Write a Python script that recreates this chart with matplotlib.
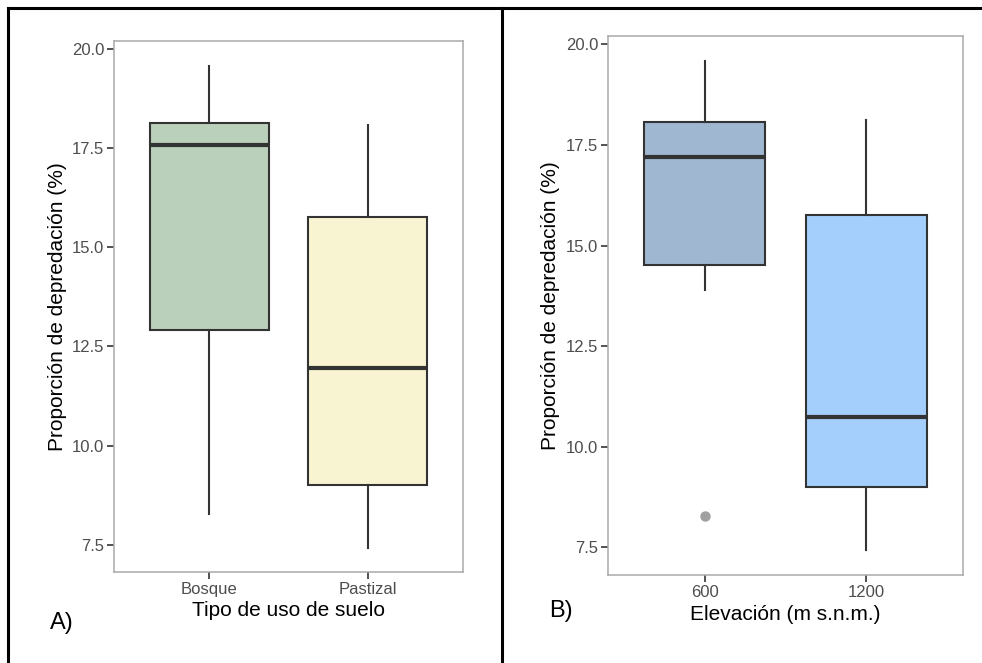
import matplotlib
matplotlib.use("Agg")
import matplotlib.pyplot as plt
from matplotlib.lines import Line2D

plt.rcParams['font.family'] = ['Liberation Sans', 'DejaVu Sans']

# Panel A: land use type (box summary)
uso_labels = ['Bosque', 'Pastizal']
uso_whislo = [8.27, 7.42]
uso_q1 = [12.91, 9.00]
uso_med = [17.59, 11.96]
uso_q3 = [18.14, 15.77]
uso_whishi = [19.59, 18.10]
uso_fliers = [[], []]
uso_colors = ['#bbd0bb', '#f8f4d2']

# Panel B: elevation
elev_labels = ['600', '1200']
elev_whislo = [13.89, 7.42]
elev_q1 = [14.51, 8.99]
elev_med = [17.20, 10.75]
elev_q3 = [18.07, 15.75]
elev_whishi = [19.60, 18.12]
elev_fliers = [[8.27], []]
elev_colors = ['#9fb7d0', '#a4cffc']

yticks = [7.5, 10.0, 12.5, 15.0, 17.5, 20.0]


def draw_panel(ax, labels, whislo, q1, med, q3, whishi, fliers, colors, xlabel):
    stats = []
    for i in range(len(labels)):
        stats.append({'label': labels[i], 'whislo': whislo[i], 'q1': q1[i],
                      'med': med[i], 'q3': q3[i], 'whishi': whishi[i],
                      'fliers': fliers[i]})
    bp = ax.bxp(stats, positions=range(1, len(labels) + 1), widths=0.75,
                patch_artist=True, showcaps=False,
                boxprops=dict(edgecolor='#333333', linewidth=1.5),
                whiskerprops=dict(color='#333333', linewidth=1.5),
                medianprops=dict(color='#333333', linewidth=3),
                flierprops=dict(marker='o', markerfacecolor='#a0a0a0',
                                markeredgecolor='#a0a0a0', markersize=6.5))
    for patch, c in zip(bp['boxes'], colors):
        patch.set_facecolor(c)
    ax.set_xlim(0.4, 2.6)
    ax.set_ylim(6.81, 20.21)
    ax.set_yticks(yticks)
    ax.set_yticklabels([f"{v:.1f}" for v in yticks])
    ax.tick_params(axis='both', length=5, width=1.2, color='#333333',
                   labelcolor='#4d4d4d', labelsize=12)
    ax.tick_params(axis='y', pad=2)
    ax.tick_params(axis='x', pad=2)
    for s in ax.spines.values():
        s.set_color('#aaaaaa')
        s.set_linewidth(1.1)
    ax.set_ylabel('Proporción de depredación (%)', fontsize=15)
    ax.set_xlabel(xlabel, fontsize=15)
    ax.yaxis.set_label_coords(-0.135, 0.5)
    ax.xaxis.set_label_coords(0.5, -0.055)


fig = plt.figure(figsize=(9.82, 6.63), dpi=100)
ax1 = fig.add_axes([0.1161, 0.1373, 0.3554, 0.8009])
ax2 = fig.add_axes([0.6191, 0.1327, 0.3615, 0.8130])

draw_panel(ax1, uso_labels, uso_whislo, uso_q1, uso_med, uso_q3, uso_whishi,
           uso_fliers, uso_colors, 'Tipo de uso de suelo')
draw_panel(ax2, elev_labels, elev_whislo, elev_q1, elev_med, elev_q3, elev_whishi,
           elev_fliers, elev_colors, 'Elevación (m s.n.m.)')

fig.text(50 / 982, 1 - 623 / 663, 'A)', fontsize=17, ha='left', va='center')
fig.text(549 / 982, 1 - 611 / 663, 'B)', fontsize=17, ha='left', va='center')

# table-like frame around the two panels
fig.add_artist(Line2D([8 / 982, 1], [1 - 8 / 663, 1 - 8 / 663], color='black', lw=2.2))
fig.add_artist(Line2D([8 / 982, 8 / 982], [0, 1 - 8 / 663], color='black', lw=2.2))
fig.add_artist(Line2D([502 / 982, 502 / 982], [0, 1 - 8 / 663], color='black', lw=2.2))

plt.savefig('out.png', dpi=100)
